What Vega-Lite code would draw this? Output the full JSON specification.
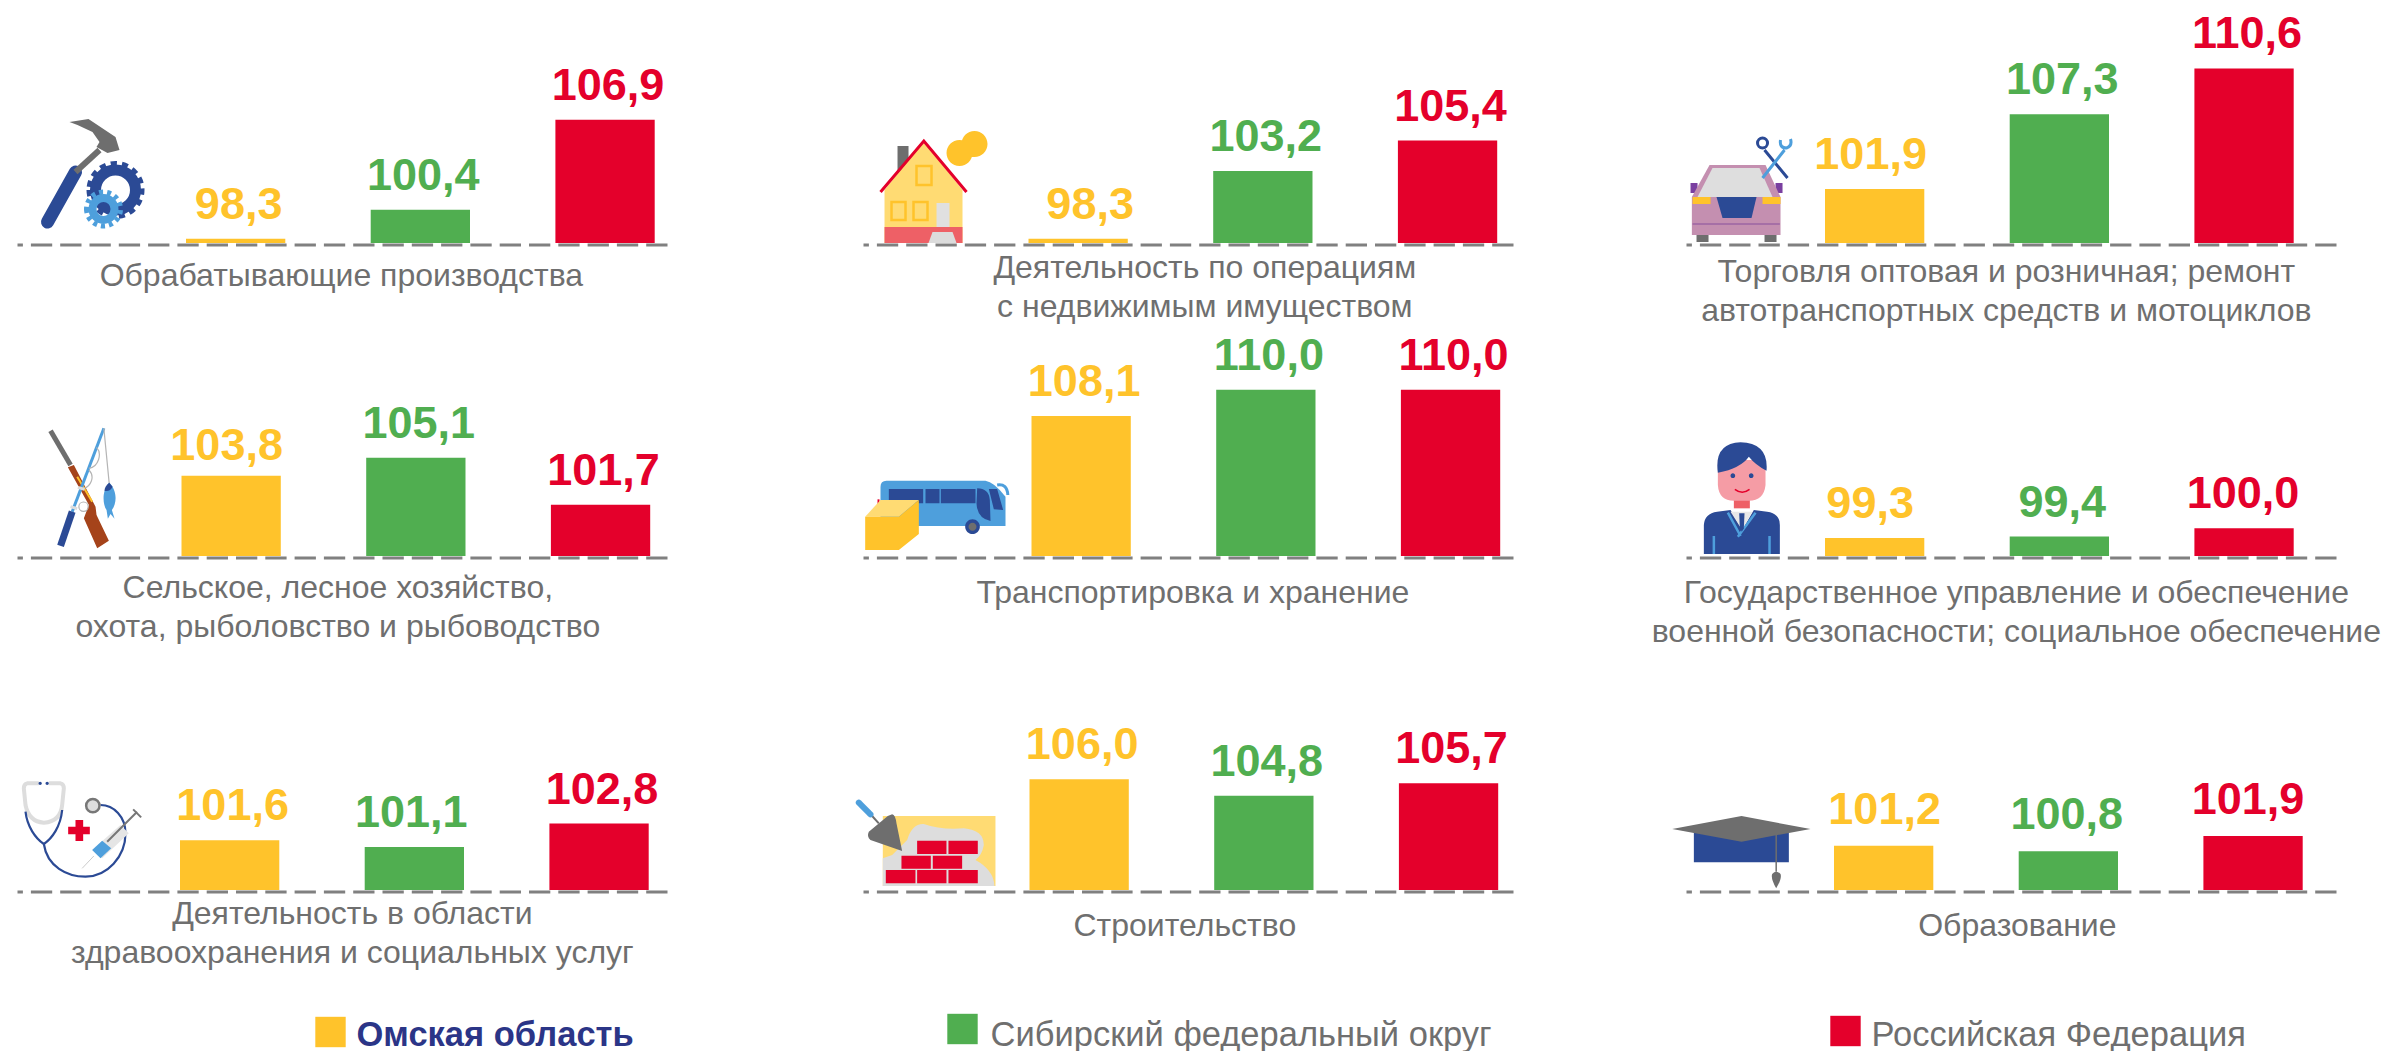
{"$schema":"https://vega.github.io/schema/vega-lite/v6.json","padding":{"left":15.5,"top":0,"right":0,"bottom":0},"autosize":{"type":"pad"},"background":"white","columns":5,"spacing":0,"bounds":"flush","align":"each","config":{"view":{"stroke":null},"axis":{"disable":true},"legend":{"disable":true}},
"concat":[
{"width":650,"height":310,"data":{"values":[{"series":"Омская область","value":98.3,"label":"98,3"},{"series":"Сибирский федеральный округ","value":100.4,"label":"100,4"},{"series":"Российская Федерация","value":106.9,"label":"106,9"}]},
"layer":[
{"data":{"values":[{"level":97.85}]},"mark":{"type":"rule","color":"#808080","strokeWidth":3,"strokeDash":[21.3,8]},"encoding":{"y":{"field":"level","type":"quantitative"}}},
{"encoding":{"x":{"field":"series","type":"nominal","scale":{"domain":["Омская область","Сибирский федеральный округ","Российская Федерация"],"range":[168.5,637.2],"paddingInner":0.4624,"paddingOuter":0}},"y":{"field":"value","type":"quantitative","scale":{"domain":[93.162,115.545],"nice":false,"zero":false}},"color":{"field":"series","type":"nominal","scale":{"domain":["Омская область","Сибирский федеральный округ","Российская Федерация"],"range":["#FFC32B","#50AE50","#E4002B"]}}},
"layer":[{"mark":"bar","encoding":{"y2":{"datum":98}}},{"mark":{"type":"text","font":"Liberation Sans","fontSize":45,"fontWeight":"bold","baseline":"alphabetic","dy":-20,"dx":3},"encoding":{"text":{"field":"label"}}}]},
{"data":{"values":[{"series":"Сибирский федеральный округ","value":98,"category":"Обрабатывающие производства"}]},"mark":{"type":"text","font":"Liberation Sans","fontSize":32,"color":"#6F6F6F","baseline":"alphabetic","lineBreak":"\n","lineHeight":39,"dx":-79,"dy":43},"encoding":{"x":{"field":"series","type":"nominal"},"y":{"field":"value","type":"quantitative"},"text":{"field":"category"}}},
{"data":{"values":[{"series":"Омская область","value":107.603}]},"encoding":{"x":{"field":"series","type":"nominal","bandPosition":-1.566},"y":{"field":"value","type":"quantitative"}},"layer":[
{"mark":{"type":"point","size":0.4444,"filled":false,"opacity":1,"color":"#2B4A95","strokeWidth":13,"strokeCap":"round","shape":"M135 186 L51 336"}},
{"mark":{"type":"point","size":0.4444,"filled":false,"opacity":1,"color":"#6E6E6E","strokeWidth":6,"shape":"M135 186 L207 120"}},
{"mark":{"type":"point","size":0.4444,"filled":true,"opacity":1,"color":"#6E6E6E","shape":"M117 36 L174 27 L255 81 L267 120 L231 129 L198 111 L207 96 L186 66 L141 45 Z"}},
{"mark":{"type":"point","size":0.4444,"filled":false,"opacity":1,"color":"#2B4A95","strokeWidth":6,"strokeDash":[6,5],"shape":"M177 240 a78 78 0 1 0 156 0 a78 78 0 1 0 -156 0 Z"}},
{"mark":{"type":"point","size":0.4444,"filled":false,"opacity":1,"color":"#2B4A95","strokeWidth":11,"shape":"M195 240 a60 60 0 1 0 120 0 a60 60 0 1 0 -120 0 Z"}},
{"mark":{"type":"point","size":0.4444,"filled":false,"opacity":1,"color":"#4E9FDC","strokeWidth":5,"strokeDash":[4,4],"shape":"M168 297 a51 51 0 1 0 102 0 a51 51 0 1 0 -102 0 Z"}},
{"mark":{"type":"point","size":0.4444,"filled":false,"opacity":1,"color":"#4E9FDC","strokeWidth":8,"shape":"M186 297 a33 33 0 1 0 66 0 a33 33 0 1 0 -66 0 Z"}}
]}
]},
{"width":196,"height":1,"data":{"values":[]},"mark":"point"},
{"width":650,"height":310,"data":{"values":[{"series":"Омская область","value":98.3,"label":"98,3"},{"series":"Сибирский федеральный округ","value":103.2,"label":"103,2"},{"series":"Российская Федерация","value":105.4,"label":"105,4"}]},
"layer":[
{"data":{"values":[{"level":97.85}]},"mark":{"type":"rule","color":"#808080","strokeWidth":3,"strokeDash":[21.3,8]},"encoding":{"y":{"field":"level","type":"quantitative"}}},
{"encoding":{"x":{"field":"series","type":"nominal","scale":{"domain":["Омская область","Сибирский федеральный округ","Российская Федерация"],"range":[165,633.7],"paddingInner":0.4624,"paddingOuter":0}},"y":{"field":"value","type":"quantitative","scale":{"domain":[93.162,115.545],"nice":false,"zero":false}},"color":{"field":"series","type":"nominal","scale":{"domain":["Омская область","Сибирский федеральный округ","Российская Федерация"],"range":["#FFC32B","#50AE50","#E4002B"]}}},
"layer":[{"mark":"bar","encoding":{"y2":{"datum":98}}},{"transform":[{"filter":"datum.series !== 'Омская область'"}],"mark":{"type":"text","font":"Liberation Sans","fontSize":45,"fontWeight":"bold","baseline":"alphabetic","dy":-20,"dx":3},"encoding":{"text":{"field":"label"}}},{"transform":[{"filter":"datum.series === 'Омская область'"}],"mark":{"type":"text","font":"Liberation Sans","fontSize":45,"fontWeight":"bold","baseline":"alphabetic","dy":-20,"dx":12},"encoding":{"text":{"field":"label"}}}]},
{"data":{"values":[{"series":"Сибирский федеральный округ","value":98,"category":"Деятельность по операциям\nс недвижимым имуществом"}]},"mark":{"type":"text","font":"Liberation Sans","fontSize":32,"color":"#6F6F6F","baseline":"alphabetic","lineBreak":"\n","lineHeight":39,"dx":-58,"dy":35},"encoding":{"x":{"field":"series","type":"nominal"},"y":{"field":"value","type":"quantitative"},"text":{"field":"category"}}},
{"data":{"values":[{"series":"Омская область","value":106.159}]},"encoding":{"x":{"field":"series","type":"nominal","bandPosition":-1.591},"y":{"field":"value","type":"quantitative"}},"layer":[
{"mark":{"type":"point","size":0.4444,"filled":true,"opacity":1,"color":"#6E6E6E","shape":"M81 48 H114 V180 H81 Z"}},
{"mark":{"type":"point","size":0.4444,"filled":true,"opacity":1,"color":"#FFDB73","shape":"M42 180 L160 33 L276 180 L276 339 L42 339 Z"}},
{"mark":{"type":"point","size":0.4444,"filled":true,"opacity":1,"color":"#EE6066","shape":"M42 291 H276 V339 H42 Z"}},
{"mark":{"type":"point","size":0.4444,"filled":true,"opacity":1,"color":"#E0E0E0","shape":"M198 219 H237 V291 H198 Z"}},
{"mark":{"type":"point","size":0.4444,"filled":true,"opacity":1,"color":"#DCDCDC","shape":"M186 306 H246 L258 339 H174 Z"}},
{"mark":{"type":"point","size":0.4444,"filled":false,"opacity":1,"color":"#FFC32B","strokeWidth":2.5,"shape":"M63 216 H105 V270 H63 Z M129 216 H171 V270 H129 Z M138 108 H183 V165 H138 Z"}},
{"mark":{"type":"point","size":0.4444,"filled":false,"opacity":1,"color":"#E4002B","strokeWidth":3,"shape":"M30 186 L160 33 L288 186"}},
{"mark":{"type":"point","size":0.4444,"filled":true,"opacity":1,"color":"#FFC32B","shape":"M273 42 a39 39 0 1 0 78 0 a39 39 0 1 0 -78 0 Z M228 69 a39 39 0 1 0 78 0 a39 39 0 1 0 -78 0 Z"}}
]}
]},
{"width":173,"height":1,"data":{"values":[]},"mark":"point"},
{"width":650,"height":310,"data":{"values":[{"series":"Омская область","value":101.9,"label":"101,9"},{"series":"Сибирский федеральный округ","value":107.3,"label":"107,3"},{"series":"Российская Федерация","value":110.6,"label":"110,6"}]},
"layer":[
{"data":{"values":[{"level":97.85}]},"mark":{"type":"rule","color":"#808080","strokeWidth":3,"strokeDash":[21.3,8]},"encoding":{"y":{"field":"level","type":"quantitative"}}},
{"encoding":{"x":{"field":"series","type":"nominal","scale":{"domain":["Омская область","Сибирский федеральный округ","Российская Федерация"],"range":[138.5,607.2],"paddingInner":0.4624,"paddingOuter":0}},"y":{"field":"value","type":"quantitative","scale":{"domain":[93.162,115.545],"nice":false,"zero":false}},"color":{"field":"series","type":"nominal","scale":{"domain":["Омская область","Сибирский федеральный округ","Российская Федерация"],"range":["#FFC32B","#50AE50","#E4002B"]}}},
"layer":[{"mark":"bar","encoding":{"y2":{"datum":98}}},{"transform":[{"filter":"datum.series !== 'Омская область'"}],"mark":{"type":"text","font":"Liberation Sans","fontSize":45,"fontWeight":"bold","baseline":"alphabetic","dy":-20,"dx":3},"encoding":{"text":{"field":"label"}}},{"transform":[{"filter":"datum.series === 'Омская область'"}],"mark":{"type":"text","font":"Liberation Sans","fontSize":45,"fontWeight":"bold","baseline":"alphabetic","dy":-20,"dx":-4},"encoding":{"text":{"field":"label"}}}]},
{"data":{"values":[{"series":"Сибирский федеральный округ","value":98,"category":"Торговля оптовая и розничная; ремонт\nавтотранспортных средств и мотоциклов"}]},"mark":{"type":"text","font":"Liberation Sans","fontSize":32,"color":"#6F6F6F","baseline":"alphabetic","lineBreak":"\n","lineHeight":39,"dx":-53,"dy":39},"encoding":{"x":{"field":"series","type":"nominal"},"y":{"field":"value","type":"quantitative"},"text":{"field":"category"}}},
{"data":{"values":[{"series":"Омская область","value":106.159}]},"encoding":{"x":{"field":"series","type":"nominal","bandPosition":-1.455},"y":{"field":"value","type":"quantitative"}},"layer":[
{"mark":{"type":"point","size":0.4444,"filled":true,"opacity":1,"color":"#6E6E6E","shape":"M48 310 H84 V336 H48 Z M252 310 H288 V336 H252 Z"}},
{"mark":{"type":"point","size":0.4444,"filled":true,"opacity":1,"color":"#7A3FA0","shape":"M30 159 H51 V189 H30 Z M285 159 H306 V189 H285 Z"}},
{"mark":{"type":"point","size":0.4444,"filled":true,"opacity":1,"color":"#C48FB0","shape":"M87 105 L255 105 L300 201 L300 315 L34 315 L34 201 Z"}},
{"mark":{"type":"point","size":0.4444,"filled":true,"opacity":1,"color":"#DEDEDE","shape":"M96 114 L237 114 L276 201 L51 201 Z"}},
{"mark":{"type":"point","size":0.4444,"filled":true,"opacity":1,"color":"#2B4A95","shape":"M108 201 L228 201 L213 264 L126 264 Z"}},
{"mark":{"type":"point","size":0.4444,"filled":true,"opacity":1,"color":"#FFC32B","shape":"M36 201 H90 V222 H36 Z M246 201 H300 V222 H246 Z"}},
{"mark":{"type":"point","size":0.4444,"filled":false,"opacity":1,"color":"#A66FA6","strokeWidth":2,"shape":"M36 282 H298"}},
{"mark":{"type":"point","size":0.4444,"filled":false,"opacity":1,"color":"#2B4A95","strokeWidth":3,"shape":"M252 60 L321 144 M231 39 a15 15 0 1 0 30 0 a15 15 0 1 0 -30 0 Z"}},
{"mark":{"type":"point","size":0.4444,"filled":false,"opacity":1,"color":"#4E9FDC","strokeWidth":3,"shape":"M312 60 L246 144 M300 30 Q296 54 318 54 Q336 48 330 27"}}
]}
]},
{"width":650,"height":340,"data":{"values":[{"series":"Омская область","value":103.8,"label":"103,8"},{"series":"Сибирский федеральный округ","value":105.1,"label":"105,1"},{"series":"Российская Федерация","value":101.7,"label":"101,7"}]},
"layer":[
{"data":{"values":[{"level":97.85}]},"mark":{"type":"rule","color":"#808080","strokeWidth":3,"strokeDash":[21.3,8]},"encoding":{"y":{"field":"level","type":"quantitative"}}},
{"encoding":{"x":{"field":"series","type":"nominal","scale":{"domain":["Омская область","Сибирский федеральный округ","Российская Федерация"],"range":[164,632.7],"paddingInner":0.4624,"paddingOuter":0}},"y":{"field":"value","type":"quantitative","scale":{"domain":[91.213,115.762],"nice":false,"zero":false}},"color":{"field":"series","type":"nominal","scale":{"domain":["Омская область","Сибирский федеральный округ","Российская Федерация"],"range":["#FFC32B","#50AE50","#E4002B"]}}},
"layer":[{"mark":"bar","encoding":{"y2":{"datum":98}}},{"transform":[{"filter":"datum.series !== 'Омская область'"}],"mark":{"type":"text","font":"Liberation Sans","fontSize":45,"fontWeight":"bold","baseline":"alphabetic","dy":-20,"dx":3},"encoding":{"text":{"field":"label"}}},{"transform":[{"filter":"datum.series === 'Омская область'"}],"mark":{"type":"text","font":"Liberation Sans","fontSize":45,"fontWeight":"bold","baseline":"alphabetic","dy":-16,"dx":-4.5},"encoding":{"text":{"field":"label"}}}]},
{"data":{"values":[{"series":"Сибирский федеральный округ","value":98,"category":"Сельское, лесное хозяйство,\nохота, рыболовство и рыбоводство"}]},"mark":{"type":"text","font":"Liberation Sans","fontSize":32,"color":"#6F6F6F","baseline":"alphabetic","lineBreak":"\n","lineHeight":39,"dx":-78,"dy":42},"encoding":{"x":{"field":"series","type":"nominal"},"y":{"field":"value","type":"quantitative"},"text":{"field":"category"}}},
{"data":{"values":[{"series":"Омская область","value":108.542}]},"encoding":{"x":{"field":"series","type":"nominal","bandPosition":-1.621},"y":{"field":"value","type":"quantitative"}},"layer":[
{"mark":{"type":"point","size":0.4444,"filled":false,"opacity":1,"color":"#6E6E6E","strokeWidth":5,"shape":"M90 62 L150 165"}},
{"mark":{"type":"point","size":0.4444,"filled":true,"opacity":1,"color":"#A5431A","shape":"M142 172 L160 165 L225 290 L228 315 L265 392 L230 415 L190 325 L205 285 Z"}},
{"mark":{"type":"point","size":0.4444,"filled":false,"opacity":1,"color":"#FFC32B","strokeWidth":2,"shape":"M170 200 L215 275"}},
{"mark":{"type":"point","size":0.4444,"filled":false,"opacity":1,"color":"#4E9FDC","strokeWidth":3,"shape":"M250 55 L155 305"}},
{"mark":{"type":"point","size":0.4444,"filled":false,"opacity":1,"color":"#2B4A95","strokeWidth":7,"shape":"M155 305 L120 408"}},
{"mark":{"type":"point","size":0.4444,"filled":false,"opacity":1,"color":"#B5B5B5","strokeWidth":1.2,"shape":"M250 55 L266 220 M228 112 C245 130 235 170 205 175 M205 180 C225 200 210 230 190 235 M175 290 a14 14 0 1 0 28 0 a14 14 0 1 0 -28 0 Z"}},
{"mark":{"type":"point","size":0.4444,"filled":true,"opacity":1,"color":"#4E9FDC","shape":"M266 218 C245 240 245 280 258 300 L262 326 L270 312 L282 326 L274 300 C290 280 290 240 266 218 Z"}},
{"mark":{"type":"point","size":0.4444,"filled":true,"opacity":1,"color":"#2B4A95","shape":"M266 218 C256 226 252 234 252 242 C262 245 272 240 276 230 Z"}},
{"mark":{"type":"point","size":0.4444,"filled":false,"opacity":1,"color":"#DDDDDD","strokeWidth":3,"shape":"M150 290 L170 296 M172 232 L192 238"}}
]}
]},
{"width":196,"height":1,"data":{"values":[]},"mark":"point"},
{"width":650,"height":340,"data":{"values":[{"series":"Омская область","value":108.1,"label":"108,1"},{"series":"Сибирский федеральный округ","value":110.0,"label":"110,0"},{"series":"Российская Федерация","value":110.0,"label":"110,0"}]},
"layer":[
{"data":{"values":[{"level":97.85}]},"mark":{"type":"rule","color":"#808080","strokeWidth":3,"strokeDash":[21.3,8]},"encoding":{"y":{"field":"level","type":"quantitative"}}},
{"encoding":{"x":{"field":"series","type":"nominal","scale":{"domain":["Омская область","Сибирский федеральный округ","Российская Федерация"],"range":[168,636.7],"paddingInner":0.4624,"paddingOuter":0}},"y":{"field":"value","type":"quantitative","scale":{"domain":[91.213,115.762],"nice":false,"zero":false}},"color":{"field":"series","type":"nominal","scale":{"domain":["Омская область","Сибирский федеральный округ","Российская Федерация"],"range":["#FFC32B","#50AE50","#E4002B"]}}},
"layer":[{"mark":"bar","encoding":{"y2":{"datum":98}}},{"mark":{"type":"text","font":"Liberation Sans","fontSize":45,"fontWeight":"bold","baseline":"alphabetic","dy":-20,"dx":3},"encoding":{"text":{"field":"label"}}}]},
{"data":{"values":[{"series":"Сибирский федеральный округ","value":98,"category":"Транспортировка и хранение"}]},"mark":{"type":"text","font":"Liberation Sans","fontSize":32,"color":"#6F6F6F","baseline":"alphabetic","lineBreak":"\n","lineHeight":39,"dx":-73,"dy":47},"encoding":{"x":{"field":"series","type":"nominal"},"y":{"field":"value","type":"quantitative"},"text":{"field":"category"}}},
{"data":{"values":[{"series":"Омская область","value":104.931}]},"encoding":{"x":{"field":"series","type":"nominal","bandPosition":-1.722},"y":{"field":"value","type":"quantitative"}},"layer":[
{"mark":{"type":"point","size":0.4444,"filled":false,"opacity":1,"color":"#E4002B","strokeWidth":2,"shape":"M54 118 V140"}},
{"mark":{"type":"point","size":0.4444,"filled":true,"opacity":1,"color":"#4E9FDC","shape":"M60 80 Q60 62 78 62 L375 62 Q400 65 435 110 L435 198 L60 198 Z"}},
{"mark":{"type":"point","size":0.4444,"filled":true,"opacity":1,"color":"#2B4A95","shape":"M85 87 H188 V130 H85 Z M195 87 H237 V130 H195 Z M241 87 H345 V130 H241 Z M385 87 L410 87 L428 150 L400 148 Z M350 85 Q385 85 388 120 L390 183 Q350 175 348 130 Z M314 200 a22 22 0 1 0 44 0 a22 22 0 1 0 -44 0 Z"}},
{"mark":{"type":"point","size":0.4444,"filled":true,"opacity":1,"color":"#6E6E6E","shape":"M324 200 a12 12 0 1 0 24 0 a12 12 0 1 0 -24 0 Z"}},
{"mark":{"type":"point","size":0.4444,"filled":false,"opacity":1,"color":"#4E9FDC","strokeWidth":3,"shape":"M410 75 Q440 70 442 105"}},
{"mark":{"type":"point","size":0.4444,"filled":true,"opacity":1,"color":"#FFDB73","shape":"M14 170 L60 120 L175 120 L115 170 Z"}},
{"mark":{"type":"point","size":0.4444,"filled":true,"opacity":1,"color":"#FFC32B","shape":"M14 170 H115 V270 H14 Z M115 170 L175 120 L175 222 L115 270 Z"}}
]}
]},
{"width":173,"height":1,"data":{"values":[]},"mark":"point"},
{"width":650,"height":340,"data":{"values":[{"series":"Омская область","value":99.3,"label":"99,3"},{"series":"Сибирский федеральный округ","value":99.4,"label":"99,4"},{"series":"Российская Федерация","value":100.0,"label":"100,0"}]},
"layer":[
{"data":{"values":[{"level":97.85}]},"mark":{"type":"rule","color":"#808080","strokeWidth":3,"strokeDash":[21.3,8]},"encoding":{"y":{"field":"level","type":"quantitative"}}},
{"encoding":{"x":{"field":"series","type":"nominal","scale":{"domain":["Омская область","Сибирский федеральный округ","Российская Федерация"],"range":[138.5,607.2],"paddingInner":0.4624,"paddingOuter":0}},"y":{"field":"value","type":"quantitative","scale":{"domain":[91.213,115.762],"nice":false,"zero":false}},"color":{"field":"series","type":"nominal","scale":{"domain":["Омская область","Сибирский федеральный округ","Российская Федерация"],"range":["#FFC32B","#50AE50","#E4002B"]}}},
"layer":[{"mark":"bar","encoding":{"y2":{"datum":98}}},{"transform":[{"filter":"datum.series === 'Сибирский федеральный округ'"}],"mark":{"type":"text","font":"Liberation Sans","fontSize":45,"fontWeight":"bold","baseline":"alphabetic","dy":-20,"dx":3},"encoding":{"text":{"field":"label"}}},{"transform":[{"filter":"datum.series === 'Омская область'"}],"mark":{"type":"text","font":"Liberation Sans","fontSize":45,"fontWeight":"bold","baseline":"alphabetic","dy":-20,"dx":-4.5},"encoding":{"text":{"field":"label"}}},{"transform":[{"filter":"datum.series === 'Российская Федерация'"}],"mark":{"type":"text","font":"Liberation Sans","fontSize":45,"fontWeight":"bold","baseline":"alphabetic","dy":-20,"dx":-1},"encoding":{"text":{"field":"label"}}}]},
{"data":{"values":[{"series":"Сибирский федеральный округ","value":98,"category":"Государственное управление и обеспечение\nвоенной безопасности; социальное обеспечение"}]},"mark":{"type":"text","font":"Liberation Sans","fontSize":32,"color":"#6F6F6F","baseline":"alphabetic","lineBreak":"\n","lineHeight":39,"dx":-43,"dy":47},"encoding":{"x":{"field":"series","type":"nominal"},"y":{"field":"value","type":"quantitative"},"text":{"field":"category"}}},
{"data":{"values":[{"series":"Омская область","value":107.097}]},"encoding":{"x":{"field":"series","type":"nominal","bandPosition":-1.455},"y":{"field":"value","type":"quantitative"}},"layer":[
{"mark":{"type":"point","size":0.4444,"filled":true,"opacity":1,"color":"#EE6066","shape":"M160 200 H208 V235 H160 Z"}},
{"mark":{"type":"point","size":0.4444,"filled":true,"opacity":1,"color":"#F59CA5","shape":"M112 90 H255 V165 Q250 212 205 212 H160 Q115 212 112 165 Z"}},
{"mark":{"type":"point","size":0.4444,"filled":true,"opacity":1,"color":"#2B4A95","shape":"M112 128 Q100 40 180 37 Q265 40 258 122 Q225 105 205 80 Q180 115 112 128 Z M150 137 a7 7 0 1 0 14 0 a7 7 0 1 0 -14 0 Z M205 137 a7 7 0 1 0 14 0 a7 7 0 1 0 -14 0 Z M70 372 V285 Q72 250 110 245 L150 240 L185 300 L220 240 L260 245 Q298 250 298 285 V372 Z"}},
{"mark":{"type":"point","size":0.4444,"filled":false,"opacity":1,"color":"#E4002B","strokeWidth":1.5,"shape":"M163 178 Q185 195 207 178"}},
{"mark":{"type":"point","size":0.4444,"filled":true,"opacity":1,"color":"#E8E8E8","shape":"M150 245 L185 300 L215 245 Z"}},
{"mark":{"type":"point","size":0.4444,"filled":false,"opacity":1,"color":"#4E9FDC","strokeWidth":2.5,"shape":"M142 248 L180 318 M225 248 L172 320 M100 318 V372 M267 318 V372"}},
{"mark":{"type":"point","size":0.4444,"filled":true,"opacity":1,"color":"#2B4A95","shape":"M176 250 H192 L190 295 L184 305 L178 295 Z"}}
]}
]},
{"width":650,"height":350,"data":{"values":[{"series":"Омская область","value":101.6,"label":"101,6"},{"series":"Сибирский федеральный округ","value":101.1,"label":"101,1"},{"series":"Российская Федерация","value":102.8,"label":"102,8"}]},
"layer":[
{"data":{"values":[{"level":97.85}]},"mark":{"type":"rule","color":"#808080","strokeWidth":3,"strokeDash":[21.3,8]},"encoding":{"y":{"field":"level","type":"quantitative"}}},
{"encoding":{"x":{"field":"series","type":"nominal","scale":{"domain":["Омская область","Сибирский федеральный округ","Российская Федерация"],"range":[162.5,631.2],"paddingInner":0.4624,"paddingOuter":0}},"y":{"field":"value","type":"quantitative","scale":{"domain":[90.058,115.329],"nice":false,"zero":false}},"color":{"field":"series","type":"nominal","scale":{"domain":["Омская область","Сибирский федеральный округ","Российская Федерация"],"range":["#FFC32B","#50AE50","#E4002B"]}}},
"layer":[{"mark":"bar","encoding":{"y2":{"datum":98}}},{"transform":[{"filter":"datum.series !== 'Сибирский федеральный округ'"}],"mark":{"type":"text","font":"Liberation Sans","fontSize":45,"fontWeight":"bold","baseline":"alphabetic","dy":-20,"dx":3},"encoding":{"text":{"field":"label"}}},{"transform":[{"filter":"datum.series === 'Сибирский федеральный округ'"}],"mark":{"type":"text","font":"Liberation Sans","fontSize":45,"fontWeight":"bold","baseline":"alphabetic","dy":-20,"dx":-3},"encoding":{"text":{"field":"label"}}}]},
{"data":{"values":[{"series":"Сибирский федеральный округ","value":98,"category":"Деятельность в области\nздравоохранения и социальных услуг"}]},"mark":{"type":"text","font":"Liberation Sans","fontSize":32,"color":"#6F6F6F","baseline":"alphabetic","lineBreak":"\n","lineHeight":39,"dx":-62,"dy":34},"encoding":{"x":{"field":"series","type":"nominal"},"y":{"field":"value","type":"quantitative"},"text":{"field":"category"}}},
{"data":{"values":[{"series":"Омская область","value":106.664}]},"encoding":{"x":{"field":"series","type":"nominal","bandPosition":-1.707},"y":{"field":"value","type":"quantitative"}},"layer":[
{"mark":{"type":"point","size":0.4444,"filled":false,"opacity":1,"color":"#DDDDDD","strokeWidth":4,"shape":"M85 40 H50 Q40 42 40 55 L45 105 Q55 155 100 158 Q150 155 155 105 L160 55 Q160 42 150 40 H115"}},
{"mark":{"type":"point","size":0.4444,"filled":true,"opacity":1,"color":"#2B4A95","shape":"M84 40 a5 5 0 1 0 10 0 a5 5 0 1 0 -10 0 Z M105 40 a5 5 0 1 0 10 0 a5 5 0 1 0 -10 0 Z"}},
{"mark":{"type":"point","size":0.4444,"filled":false,"opacity":1,"color":"#2B4A95","strokeWidth":2.2,"shape":"M45 125 C50 170 75 205 100 222 C125 205 150 170 155 120 M100 222 C110 290 170 320 225 320 C290 320 345 260 345 190 C345 140 310 105 270 105"}},
{"mark":{"type":"point","size":0.4444,"filled":true,"opacity":1,"color":"#E4002B","shape":"M195 150 H218 V170 H238 V193 H218 V213 H195 V193 H173 V170 H195 Z"}},
{"mark":{"type":"point","size":0.4444,"filled":true,"opacity":1,"color":"#E5E5E5","shape":"M330 165 L355 190 L275 265 L245 240 Z"}},
{"mark":{"type":"point","size":0.4444,"filled":true,"opacity":1,"color":"#4E9FDC","shape":"M275 212 L302 235 L270 265 L245 240 Z"}},
{"mark":{"type":"point","size":0.4444,"filled":false,"opacity":1,"color":"#777777","strokeWidth":2,"shape":"M290 215 L380 125 M368 118 L392 142"}},
{"mark":{"type":"point","size":0.4444,"filled":false,"opacity":1,"color":"#CCCCCC","strokeWidth":1,"shape":"M250 258 L215 295"}},
{"mark":{"type":"point","size":0.4444,"filled":true,"opacity":1,"stroke":"#777777","strokeWidth":2.5,"color":"#DDDDDD","shape":"M227 107 a20 20 0 1 0 40 0 a20 20 0 1 0 -40 0 Z"}}
]}
]},
{"width":196,"height":1,"data":{"values":[]},"mark":"point"},
{"width":650,"height":350,"data":{"values":[{"series":"Омская область","value":106.0,"label":"106,0"},{"series":"Сибирский федеральный округ","value":104.8,"label":"104,8"},{"series":"Российская Федерация","value":105.7,"label":"105,7"}]},
"layer":[
{"data":{"values":[{"level":97.85}]},"mark":{"type":"rule","color":"#808080","strokeWidth":3,"strokeDash":[21.3,8]},"encoding":{"y":{"field":"level","type":"quantitative"}}},
{"encoding":{"x":{"field":"series","type":"nominal","scale":{"domain":["Омская область","Сибирский федеральный округ","Российская Федерация"],"range":[166,634.7],"paddingInner":0.4624,"paddingOuter":0}},"y":{"field":"value","type":"quantitative","scale":{"domain":[90.058,115.329],"nice":false,"zero":false}},"color":{"field":"series","type":"nominal","scale":{"domain":["Омская область","Сибирский федеральный округ","Российская Федерация"],"range":["#FFC32B","#50AE50","#E4002B"]}}},
"layer":[{"mark":"bar","encoding":{"y2":{"datum":98}}},{"mark":{"type":"text","font":"Liberation Sans","fontSize":45,"fontWeight":"bold","baseline":"alphabetic","dy":-20,"dx":3},"encoding":{"text":{"field":"label"}}}]},
{"data":{"values":[{"series":"Сибирский федеральный округ","value":98,"category":"Строительство"}]},"mark":{"type":"text","font":"Liberation Sans","fontSize":32,"color":"#6F6F6F","baseline":"alphabetic","lineBreak":"\n","lineHeight":39,"dx":-79,"dy":46},"encoding":{"x":{"field":"series","type":"nominal"},"y":{"field":"value","type":"quantitative"},"text":{"field":"category"}}},
{"data":{"values":[{"series":"Омская область","value":105.942}]},"encoding":{"x":{"field":"series","type":"nominal","bandPosition":-1.803},"y":{"field":"value","type":"quantitative"}},"layer":[
{"mark":{"type":"point","size":0.4444,"filled":true,"opacity":1,"color":"#FFDB73","shape":"M97 108 H435 V318 H97 Z"}},
{"mark":{"type":"point","size":0.4444,"filled":true,"opacity":1,"color":"#DDDDDD","shape":"M97 235 L125 225 L170 180 Q185 130 220 132 Q270 150 340 145 Q400 150 400 195 Q395 225 375 240 Q430 270 432 318 H97 Z"}},
{"mark":{"type":"point","size":0.4444,"filled":true,"opacity":1,"color":"#E4002B","shape":"M200 182 H288 V222 H200 Z M294 182 H382 V222 H294 Z M153 227 H241 V266 H153 Z M247 227 H335 V266 H247 Z M106 270 H195 V310 H106 Z M200 270 H288 V310 H200 Z M294 270 H382 V310 H294 Z"}},
{"mark":{"type":"point","size":0.4444,"filled":true,"opacity":1,"color":"#6E6E6E","shape":"M125 103 Q135 105 138 130 L155 213 L60 180 Q48 170 55 155 L112 108 Z"}},
{"mark":{"type":"point","size":0.4444,"filled":false,"opacity":1,"color":"#6E6E6E","strokeWidth":2,"shape":"M65 108 L85 130"}},
{"mark":{"type":"point","size":0.4444,"filled":false,"opacity":1,"color":"#4E9FDC","strokeWidth":6,"strokeCap":"round","shape":"M25 68 L60 103"}}
]}
]},
{"width":173,"height":1,"data":{"values":[]},"mark":"point"},
{"width":650,"height":350,"data":{"values":[{"series":"Омская область","value":101.2,"label":"101,2"},{"series":"Сибирский федеральный округ","value":100.8,"label":"100,8"},{"series":"Российская Федерация","value":101.9,"label":"101,9"}]},
"layer":[
{"data":{"values":[{"level":97.85}]},"mark":{"type":"rule","color":"#808080","strokeWidth":3,"strokeDash":[21.3,8]},"encoding":{"y":{"field":"level","type":"quantitative"}}},
{"encoding":{"x":{"field":"series","type":"nominal","scale":{"domain":["Омская область","Сибирский федеральный округ","Российская Федерация"],"range":[147.5,616.2],"paddingInner":0.4624,"paddingOuter":0}},"y":{"field":"value","type":"quantitative","scale":{"domain":[90.058,115.329],"nice":false,"zero":false}},"color":{"field":"series","type":"nominal","scale":{"domain":["Омская область","Сибирский федеральный округ","Российская Федерация"],"range":["#FFC32B","#50AE50","#E4002B"]}}},
"layer":[{"mark":"bar","encoding":{"y2":{"datum":98}}},{"transform":[{"filter":"datum.series === 'Омская область'"}],"mark":{"type":"text","font":"Liberation Sans","fontSize":45,"fontWeight":"bold","baseline":"alphabetic","dy":-22,"dx":1},"encoding":{"text":{"field":"label"}}},{"transform":[{"filter":"datum.series === 'Сибирский федеральный округ'"}],"mark":{"type":"text","font":"Liberation Sans","fontSize":45,"fontWeight":"bold","baseline":"alphabetic","dy":-22,"dx":-1.5},"encoding":{"text":{"field":"label"}}},{"transform":[{"filter":"datum.series === 'Российская Федерация'"}],"mark":{"type":"text","font":"Liberation Sans","fontSize":45,"fontWeight":"bold","baseline":"alphabetic","dy":-22,"dx":-5},"encoding":{"text":{"field":"label"}}}]},
{"data":{"values":[{"series":"Сибирский федеральный округ","value":98,"category":"Образование"}]},"mark":{"type":"text","font":"Liberation Sans","fontSize":32,"color":"#6F6F6F","baseline":"alphabetic","lineBreak":"\n","lineHeight":39,"dx":-51,"dy":46},"encoding":{"x":{"field":"series","type":"nominal"},"y":{"field":"value","type":"quantitative"},"text":{"field":"category"}}},
{"data":{"values":[{"series":"Омская область","value":105.220}]},"encoding":{"x":{"field":"series","type":"nominal","bandPosition":-1.747},"y":{"field":"value","type":"quantitative"}},"layer":[
{"mark":{"type":"point","size":0.4444,"filled":true,"opacity":1,"color":"#2B4A95","shape":"M100 125 H385 V217 H100 Z"}},
{"mark":{"type":"point","size":0.4444,"filled":true,"opacity":1,"color":"#6E6E6E","shape":"M35 117 L243 78 L450 117 L243 155 Z M347 295 Q330 265 335 252 Q347 238 360 252 Q365 265 347 295 Z"}},
{"mark":{"type":"point","size":0.4444,"filled":false,"opacity":1,"color":"#6E6E6E","strokeWidth":1.5,"shape":"M347 135 V245"}}
]}
]},
{"width":650,"height":51,"data":{"values":[{"series":"Омская область"}]},"encoding":{"x":{"field":"series","type":"nominal","scale":{"type":"point","domain":["Омская область"],"range":[313,313]}},"y":{"field":"series","type":"nominal","scale":{"type":"point","domain":["Омская область"],"range":[32,32]}}},
"layer":[{"mark":{"type":"point","shape":"square","size":924,"filled":true,"opacity":1,"color":"#FFC32B"}},{"mark":{"type":"text","font":"Liberation Sans","fontSize":34.5,"fontWeight":"bold","color":"#2B3587","align":"left","baseline":"alphabetic","dx":26,"dy":14},"encoding":{"text":{"field":"series"}}}]},
{"width":196,"height":1,"data":{"values":[]},"mark":"point"},
{"width":650,"height":51,"data":{"values":[{"series":"Сибирский федеральный округ"}]},"encoding":{"x":{"field":"series","type":"nominal","scale":{"type":"point","domain":["Сибирский федеральный округ"],"range":[99,99]}},"y":{"field":"series","type":"nominal","scale":{"type":"point","domain":["Сибирский федеральный округ"],"range":[29,29]}}},
"layer":[{"mark":{"type":"point","shape":"square","size":924,"filled":true,"opacity":1,"color":"#50AE50"}},{"mark":{"type":"text","font":"Liberation Sans","fontSize":34.5,"color":"#6F6F6F","align":"left","baseline":"alphabetic","dx":28,"dy":17},"encoding":{"text":{"field":"series"}}}]},
{"width":173,"height":1,"data":{"values":[]},"mark":"point"},
{"width":650,"height":51,"data":{"values":[{"series":"Российская Федерация"}]},"encoding":{"x":{"field":"series","type":"nominal","scale":{"type":"point","domain":["Российская Федерация"],"range":[159,159]}},"y":{"field":"series","type":"nominal","scale":{"type":"point","domain":["Российская Федерация"],"range":[31,31]}}},
"layer":[{"mark":{"type":"point","shape":"square","size":924,"filled":true,"opacity":1,"color":"#E4002B"}},{"mark":{"type":"text","font":"Liberation Sans","fontSize":34.5,"color":"#6F6F6F","align":"left","baseline":"alphabetic","dx":26,"dy":15},"encoding":{"text":{"field":"series"}}}]}
]}
